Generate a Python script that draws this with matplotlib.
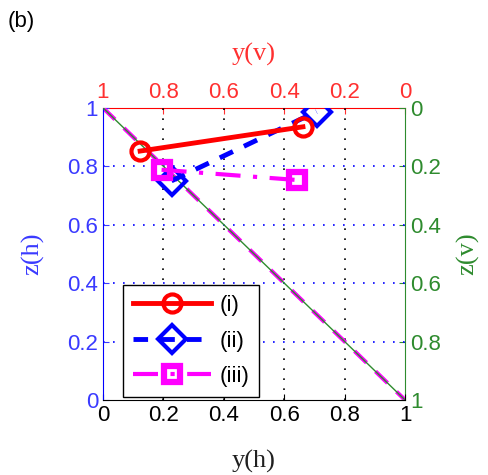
import matplotlib
matplotlib.use('Agg')
import matplotlib.pyplot as plt

# data
diag_x = [0, 1]
diag_z = [1, 0]
i_x = [0.123, 0.662]
i_z = [0.852, 0.935]
ii_x = [0.227, 0.707]
ii_z = [0.75, 0.987]
iii_x = [0.194, 0.641]
iii_z = [0.788, 0.753]
ticks = [0, 0.2, 0.4, 0.6, 0.8, 1]
ticklabels = ['0', '0.2', '0.4', '0.6', '0.8', '1']
labels = ['(i)', '(ii)', '(iii)']

BLUE = '#3a3aff'
RED = '#ff3030'
GREEN = '#2e8b2e'
TICKFONT = 'Liberation Sans'
LABFONT = 'Liberation Serif'
LABSIZE = 19

fig = plt.figure(figsize=(4.88, 4.75), dpi=100)
ax = fig.add_axes([0.211, 0.158, 0.619, 0.615])

# diagonal
ax.plot(diag_x, diag_z, color='magenta', linestyle='--', linewidth=3.0, dashes=(4, 3), zorder=2)
ax.plot(diag_x, diag_z, color=GREEN, linewidth=1.0, zorder=3)

ax.plot(i_x, i_z, color='red', linewidth=3.5, marker='o', markersize=13,
        markerfacecolor='none', markeredgewidth=3, label=labels[0], zorder=5)
ax.plot(ii_x, ii_z, color='blue', linewidth=3.5, linestyle='--', dashes=(3, 2.5), marker='D', markersize=14,
        markerfacecolor='none', markeredgewidth=3, label=labels[1], zorder=4)
ax.plot(iii_x, iii_z, color='magenta', linewidth=3, linestyle='-.', dashes=(6, 3, 1, 3), marker='s', markersize=12,
        markerfacecolor='none', markeredgewidth=4.5, label=labels[2], zorder=4)

ax.set_xlim(0, 1)
ax.set_ylim(0, 1)
ax.set_xticks(ticks)
ax.set_yticks(ticks)
ax.set_xticklabels(ticklabels)
ax.set_yticklabels(ticklabels)

# grids
for t in ticks[1:-1]:
    ax.axvline(t, color='black', linestyle=(0, (1, 5)), linewidth=1.2, zorder=1)
    ax.axhline(t, color='blue', linestyle=(0, (1, 5)), linewidth=1.2, zorder=1)

ax.tick_params(direction='in', length=4, labelsize=16)
ax.tick_params(axis='y', colors=BLUE)
ax.tick_params(axis='x', colors='black')
for lab in ax.get_xticklabels() + ax.get_yticklabels():
    lab.set_fontfamily(TICKFONT)
ax.spines['left'].set_color('blue')
ax.spines['bottom'].set_color('black')
ax.spines['top'].set_visible(False)
ax.spines['right'].set_visible(False)

ax.set_xlabel('y(h)', fontfamily=LABFONT, fontsize=LABSIZE, color='#202020')
ax.set_ylabel('z(h)', fontfamily=LABFONT, fontsize=LABSIZE, color=BLUE)
ax.xaxis.set_label_coords(0.5, -0.212)
ax.yaxis.set_label_coords(-0.232, 0.5)
ax.xaxis.label.set_va('center')
ax.yaxis.label.set_va('center')

# top axis y(v) = 1 - y(h)
top = ax.secondary_xaxis('top', functions=(lambda v: 1 - v, lambda v: 1 - v))
top.set_xticks(ticks)
top.set_xticklabels(ticklabels)
top.tick_params(direction='in', length=4, labelsize=16, colors=RED)
top.spines['top'].set_color('red')
for lab in top.get_xticklabels():
    lab.set_fontfamily(TICKFONT)
top.set_xlabel('y(v)', fontfamily=LABFONT, fontsize=LABSIZE, color=RED)
top.xaxis.set_label_coords(0.5, 1.182, transform=ax.transAxes)
top.xaxis.label.set_va('center')

# right axis z(v) = 1 - z(h)
right = ax.secondary_yaxis('right', functions=(lambda v: 1 - v, lambda v: 1 - v))
right.set_yticks(ticks)
right.set_yticklabels(ticklabels)
right.tick_params(direction='in', length=4, labelsize=16, colors=GREEN)
right.spines['right'].set_color(GREEN)
for lab in right.get_yticklabels():
    lab.set_fontfamily(TICKFONT)
right.set_ylabel('z(v)', fontfamily=LABFONT, fontsize=LABSIZE, color=GREEN)
right.yaxis.set_label_coords(1.209, 0.5, transform=ax.transAxes)
right.yaxis.label.set_va('center')

leg = ax.legend(loc='lower left', bbox_to_anchor=(0.066, 0.01), borderaxespad=0, handlelength=3.5,
                fancybox=False, edgecolor='black', framealpha=1,
                prop={'family': TICKFONT, 'size': 16}, borderpad=0.45, labelspacing=0.65,
                handletextpad=0.4)
leg.get_frame().set_linewidth(1.0)

fig.text(0.016, 0.954, '(b)', fontfamily=TICKFONT, fontsize=16, va='center', ha='left')

fig.savefig('out.png', dpi=100)
